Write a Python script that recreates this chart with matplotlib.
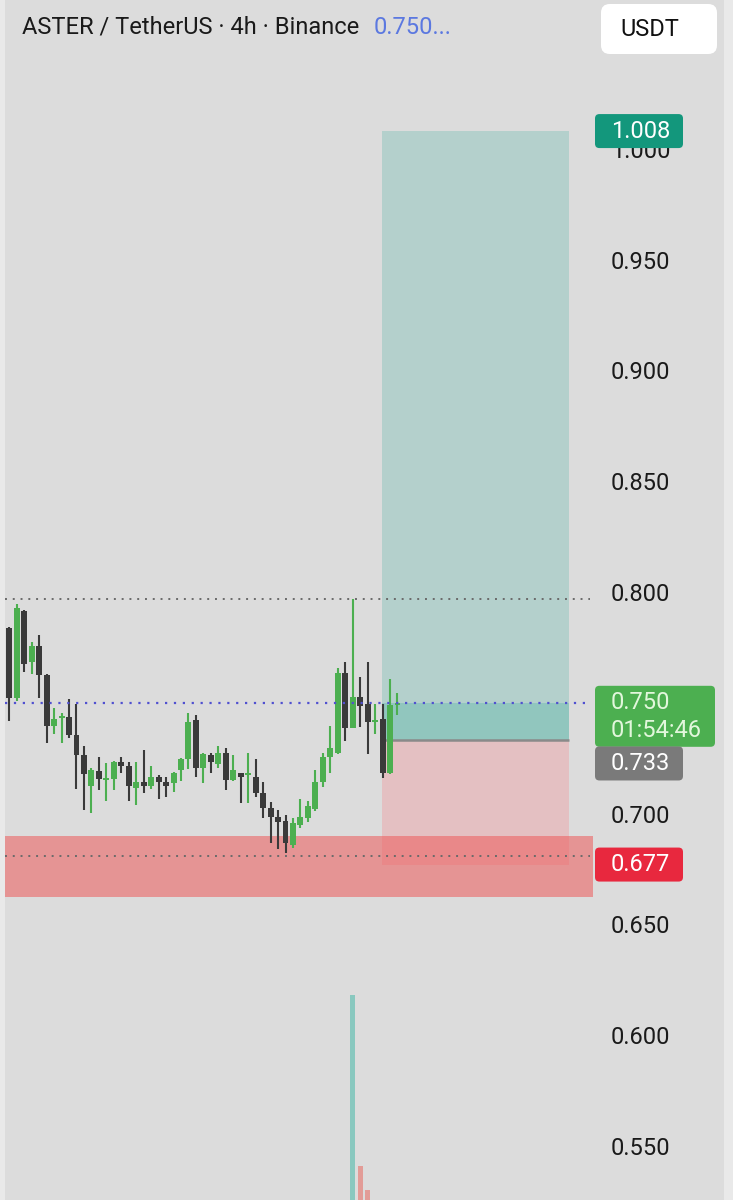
import numpy as np
import matplotlib
matplotlib.use("Agg")
import matplotlib.pyplot as plt
from matplotlib.patches import FancyBboxPatch, Rectangle

plt.rcParams['font.family'] = ['Roboto', 'DejaVu Sans']

# --- candle data (4h ASTER/USDT) ---
opens = [0.7836, 0.7520, 0.7916, 0.7686, 0.7756, 0.7625, 0.7395, 0.7430, 0.7435, 0.7355,
         0.7264, 0.7125, 0.7194, 0.7152, 0.7155, 0.7234, 0.7215, 0.7114, 0.7144, 0.7125,
         0.7167, 0.7144, 0.7137, 0.7197, 0.7245, 0.7422, 0.7204, 0.7264, 0.7224, 0.7275,
         0.7152, 0.7185, 0.7174, 0.7167, 0.7094, 0.7024, 0.6986, 0.6966, 0.6858, 0.6948,
         0.6979, 0.7019, 0.7144, 0.7257, 0.7272, 0.7636, 0.7385, 0.7525, 0.7494, 0.7412,
         0.7426, 0.7182, 0.7490]
highs = [0.7840, 0.7946, 0.7920, 0.7776, 0.7806, 0.7630, 0.7475, 0.7455, 0.7516, 0.7495,
         0.7305, 0.7204, 0.7257, 0.7227, 0.7239, 0.7257, 0.7234, 0.7234, 0.7287, 0.7215,
         0.7174, 0.7167, 0.7189, 0.7250, 0.7455, 0.7445, 0.7272, 0.7275, 0.7305, 0.7295,
         0.7264, 0.7185, 0.7275, 0.7245, 0.7144, 0.7054, 0.7016, 0.6994, 0.6979, 0.7065,
         0.7058, 0.7197, 0.7275, 0.7395, 0.7656, 0.7686, 0.7967, 0.7615, 0.7686, 0.7494,
         0.7495, 0.7606, 0.7544]
lows = [0.7419, 0.7510, 0.7640, 0.7630, 0.7520, 0.7320, 0.7360, 0.7320, 0.7340, 0.7110,
        0.7016, 0.7004, 0.7107, 0.7058, 0.7107, 0.7185, 0.7058, 0.7039, 0.7094, 0.7110,
        0.7065, 0.7076, 0.7099, 0.7148, 0.7200, 0.7167, 0.7137, 0.7185, 0.7204, 0.7107,
        0.7149, 0.7046, 0.7049, 0.7076, 0.6979, 0.6869, 0.6839, 0.6821, 0.6843, 0.6934,
        0.6963, 0.7013, 0.7119, 0.7185, 0.7269, 0.7329, 0.7385, 0.7389, 0.7269, 0.7359,
        0.7159, 0.7179, 0.7445]
closes = [0.7520, 0.7926, 0.7675, 0.7756, 0.7625, 0.7395, 0.7426, 0.7440, 0.7355, 0.7264,
          0.7179, 0.7197, 0.7155, 0.7160, 0.7234, 0.7215, 0.7125, 0.7144, 0.7125, 0.7167,
          0.7144, 0.7125, 0.7185, 0.7245, 0.7415, 0.7204, 0.7268, 0.7234, 0.7275, 0.7152,
          0.7197, 0.7167, 0.7177, 0.7092, 0.7024, 0.6986, 0.6963, 0.6866, 0.6956, 0.6986,
          0.7034, 0.7144, 0.7257, 0.7295, 0.7636, 0.7385, 0.7525, 0.7486, 0.7415, 0.7418,
          0.7185, 0.7490, 0.7500]
# volume in millions (only the spike is tall enough to show in the crop)
volumes = [9, 8, 7, 5, 6, 8, 5, 4, 5, 7, 8, 6, 4, 4, 5, 3, 4, 4, 4, 3,
           3, 3, 4, 5, 9, 8, 5, 4, 5, 6, 4, 4, 5, 4, 5, 7, 7, 8, 6, 5,
           5, 7, 8, 9, 14, 13, 62, 22.8, 17.3, 9, 12, 11, 3]

current_price = 0.750
countdown = "01:54:46"
entry_price = 0.733
target_price = 1.008
stop_price = 0.677
resistance = 0.7967
support_line = 0.681
demand_zone = (0.6624, 0.6899)
position_x = (50.9, 76.0)   # bar-index span of the long-position tool
tick_values = [0.55, 0.60, 0.65, 0.70, 0.75, 0.80, 0.85, 0.90, 0.95, 1.00]

# --- colours ---
BG = '#dcdcdc'
UP = '#4caf50'
DOWN = '#3a3a3a'

W, H = 733, 1200
fig = plt.figure(figsize=(W / 100, H / 100), dpi=100, facecolor=BG)
rect = [5 / W, 0, 588 / W, 1]

# volume pane underneath
ax_v = fig.add_axes(rect, facecolor=BG)
ax = fig.add_axes(rect)
ax.patch.set_visible(False)

x = np.arange(1, len(opens) + 1)
for a in (ax, ax_v):
    a.set_xlim(0.424, 79.19)
    for s in a.spines.values():
        s.set_visible(False)
ax.set_ylim(0.52563, 1.06715)
ax_v.set_ylim(15, 290)
ax_v.set_xticks([])
ax_v.set_yticks([])

is_up = np.array(closes) >= np.array(opens)
vcol = np.where(is_up, '#89c8bf', '#e29c97')
ax_v.bar(x, volumes, width=0.66, color=vcol)

# --- zones / drawings ---
ax.axhspan(*demand_zone, color='#ee5a5a', alpha=0.55, lw=0, zorder=1.2)
ax.fill_between(position_x, entry_price, target_price, color='#40b0a0', alpha=0.25, lw=0, zorder=1)
ax.fill_between(position_x, stop_price, entry_price, color='#ff7075', alpha=0.25, lw=0, zorder=1)
ax.fill_between(position_x, entry_price, current_price, color='#40b0a0', alpha=0.3, lw=0, zorder=1.1)
ax.hlines(entry_price, position_x[0], position_x[1], color='#8a8a8a', lw=1.8, zorder=1.3)

ax.axhline(resistance, xmax=0.995, color='#6a6a6a', lw=1.4, ls=(0, (1, 3)), zorder=1.5)
ax.axhline(support_line, xmax=0.995, color='#6a6a6a', lw=1.4, ls=(0, (1, 3)), zorder=1.5)

# --- candles ---
colors = np.where(is_up, UP, DOWN)
ax.vlines(x, lows, highs, colors=colors, lw=1.5, zorder=3)
body_lo = np.minimum(opens, closes)
body_h = np.maximum(np.abs(np.array(closes) - np.array(opens)), 0.0009)
ax.bar(x, body_h, bottom=body_lo, width=0.8, color=colors, zorder=3)

ax.axhline(current_price, xmax=0.995, color='#5050d0', lw=1.6, ls=(0, (1, 3)), zorder=3.5)

# --- right price scale (0.750 sits under the live-price tag) ---
ax.yaxis.tick_right()
ax.set_yticks(tick_values)
ax.set_yticklabels(["" if abs(v - current_price) < 1e-9 else f"{v:.3f}" for v in tick_values])
ax.tick_params(axis='y', length=0, pad=13, labelsize=17, labelcolor='#1a1a1a')
ax.set_xticks([])


def y_px(v):
    return ax.transData.transform((0, v))[1]


def tag(value, label, color, textcolor, x1=683, dy=0, h=34, sub=None):
    yc = y_px(value) - dy
    top = yc + h / 2
    bottom = yc - h / 2
    if sub is not None:
        bottom = yc - h / 2 - 27
    box = FancyBboxPatch((595 / W, bottom / H), (x1 - 595) / W, (top - bottom) / H,
                         boxstyle='round,pad=0,rounding_size=0.006',
                         mutation_aspect=W / H, transform=fig.transFigure,
                         facecolor=color, edgecolor='none', zorder=10)
    fig.add_artist(box)
    fig.text(611 / W, yc / H, label, color=textcolor, fontsize=17,
             va='center', ha='left', zorder=11)
    if sub is not None:
        fig.text(611 / W, (yc - 28) / H, sub, color=textcolor, fontsize=17,
                 va='center', ha='left', zorder=11)


tag(target_price, f"{target_price:.3f}", '#13977c', 'white')
tag(current_price, f"{current_price:.3f}", UP, '#e2f7dc', x1=715, sub=countdown)
tag(entry_price, f"{entry_price:.3f}", '#7a7a7a', 'white', dy=23)
tag(stop_price, f"{stop_price:.3f}", '#e8283e', 'white')

# --- header ---
fig.text(22 / W, 1 - 27 / H, "ASTER / TetherUS · 4h · Binance", fontsize=17,
         color='#1a1a1a', va='center', ha='left')
fig.text(374 / W, 1 - 27 / H, f"{current_price:.3f}...", fontsize=17,
         color='#5b78e0', va='center', ha='left')
fig.add_artist(FancyBboxPatch((601 / W, 1 - 54 / H), 116 / W, 50 / H,
                              boxstyle='round,pad=0,rounding_size=0.012',
                              mutation_aspect=W / H, transform=fig.transFigure,
                              facecolor='white', edgecolor='none'))
fig.text(620 / W, 1 - 29 / H, "USDT", fontsize=17, color='#111111', va='center', ha='left')

# light edges
fig.add_artist(Rectangle((0, 0), 5 / W, 1, transform=fig.transFigure, color='#e9e9e9', lw=0))
fig.add_artist(Rectangle((724 / W, 0), 9 / W, 1, transform=fig.transFigure, color='#e9e9e9', lw=0))

fig.savefig("out.png", dpi=100, facecolor=BG)
